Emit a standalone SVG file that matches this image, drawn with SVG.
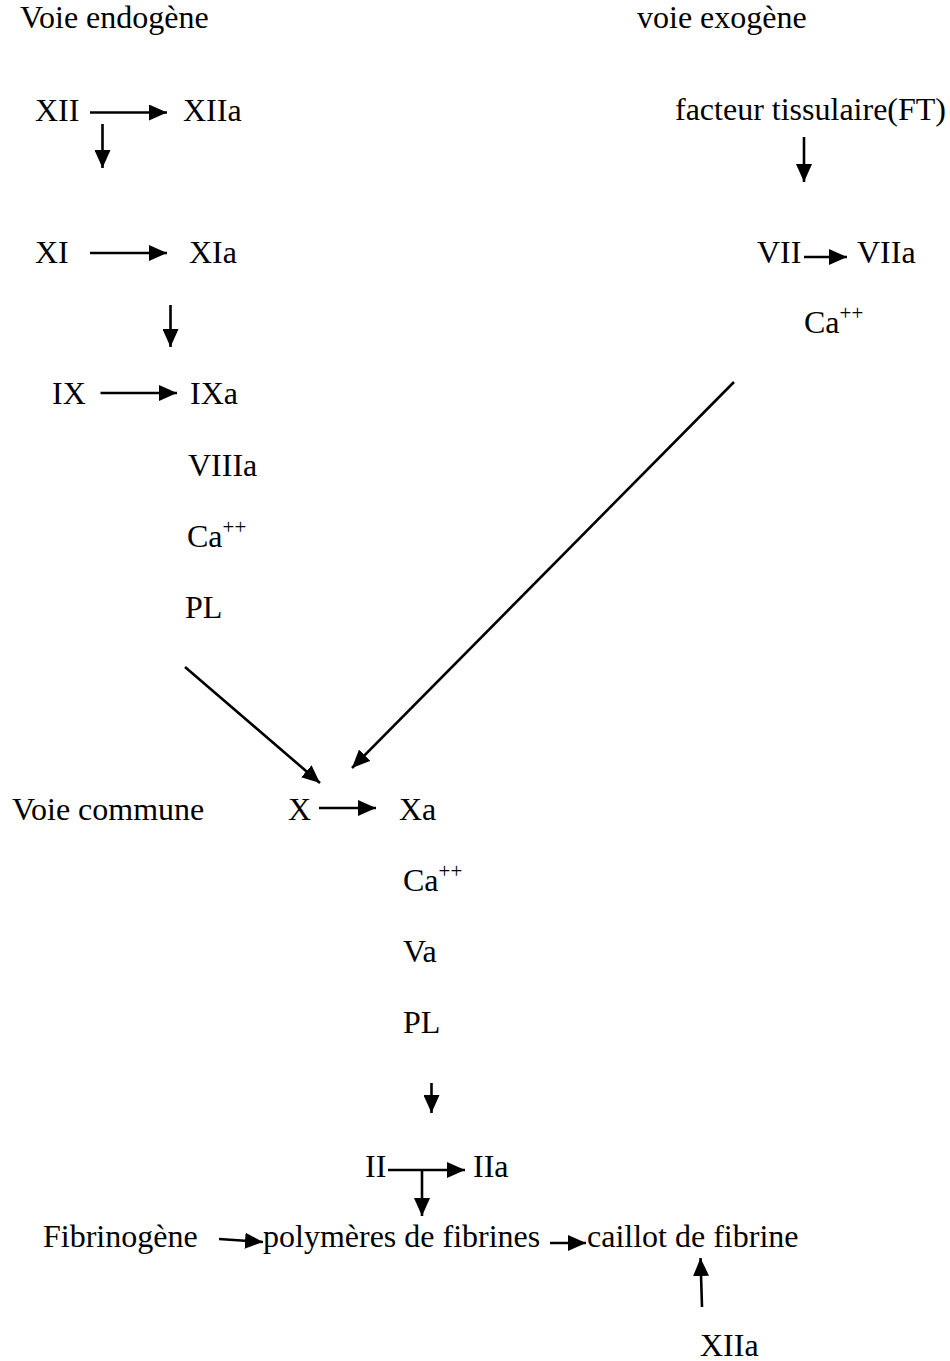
<svg xmlns="http://www.w3.org/2000/svg" width="950" height="1361" viewBox="0 0 950 1361">
  <style>
    text { font-family: "Liberation Serif", "Times New Roman", serif; font-size: 32px; fill: #000; }
    .sup { font-size: 21px; }
    .edge { stroke: #000; stroke-width: 2.6; fill: none; marker-end: url(#head); }
  </style>
  <defs>
    <marker id="head" markerUnits="userSpaceOnUse" markerWidth="18" markerHeight="16" refX="18" refY="8" orient="auto">
      <path d="M0,0 L18,8 L0,16 z" fill="#000"/>
    </marker>
  </defs>
  <rect width="950" height="1361" fill="#fff"/>

  <!-- section titles -->
  <g id="titles">
    <text x="20" y="28">Voie endogène</text>
    <text x="637" y="28">voie exogène</text>
    <text x="12" y="820">Voie commune</text>
  </g>

  <!-- intrinsic pathway -->
  <g id="n-XII"><text x="35" y="121">XII</text></g>
  <g id="n-XIIa"><text x="183" y="121">XIIa</text></g>
  <g id="n-XI"><text x="35" y="263">XI</text></g>
  <g id="n-XIa"><text x="189" y="263">XIa</text></g>
  <g id="n-IX"><text x="52" y="404">IX</text></g>
  <g id="n-IXa"><text x="190" y="404">IXa</text></g>
  <g id="n-VIIIa"><text x="188" y="476">VIIIa</text></g>
  <g id="n-Ca1"><text x="187" y="547">Ca<tspan class="sup" dy="-13">++</tspan></text></g>
  <g id="n-PL1"><text x="185" y="618">PL</text></g>

  <!-- extrinsic pathway -->
  <g id="n-FT"><text x="675" y="120">facteur tissulaire(FT)</text></g>
  <g id="n-VII"><text x="757" y="263">VII</text></g>
  <g id="n-VIIa"><text x="857" y="263">VIIa</text></g>
  <g id="n-Ca2"><text x="804" y="333">Ca<tspan class="sup" dy="-13">++</tspan></text></g>

  <!-- common pathway -->
  <g id="n-X"><text x="288" y="820">X</text></g>
  <g id="n-Xa"><text x="399" y="820">Xa</text></g>
  <g id="n-Ca3"><text x="403" y="891">Ca<tspan class="sup" dy="-13">++</tspan></text></g>
  <g id="n-Va"><text x="403" y="962">Va</text></g>
  <g id="n-PL2"><text x="403" y="1033">PL</text></g>
  <g id="n-II"><text x="365" y="1177">II</text></g>
  <g id="n-IIa"><text x="473" y="1177">IIa</text></g>
  <g id="n-Fib"><text x="43" y="1247">Fibrinogène</text></g>
  <g id="n-Poly"><text x="263" y="1247">polymères de fibrines</text></g>
  <g id="n-Clot"><text x="587" y="1247">caillot de fibrine</text></g>
  <g id="n-XIIa2"><text x="700" y="1356">XIIa</text></g>

  <!-- connectors -->
  <g id="connectors">
    <line class="edge" x1="90" y1="112.5" x2="167" y2="112.5"/>
    <line class="edge" x1="102.5" y1="124" x2="102.5" y2="168"/>
    <line class="edge" x1="90" y1="253" x2="167" y2="253"/>
    <line class="edge" x1="170.5" y1="305" x2="170.5" y2="347"/>
    <line class="edge" x1="100.5" y1="393" x2="177" y2="393"/>
    <line class="edge" x1="804" y1="137" x2="804" y2="182"/>
    <line class="edge" x1="804" y1="257" x2="847" y2="257"/>
    <line class="edge" x1="185" y1="667" x2="320" y2="783"/>
    <line class="edge" x1="734" y1="382" x2="352" y2="768"/>
    <line class="edge" x1="319" y1="808" x2="376" y2="808"/>
    <line class="edge" x1="431.5" y1="1083" x2="431.5" y2="1113"/>
    <line class="edge" x1="388" y1="1170" x2="465" y2="1170"/>
    <line class="edge" x1="422" y1="1170" x2="422" y2="1216"/>
    <line class="edge" x1="219" y1="1239" x2="263" y2="1242"/>
    <line class="edge" x1="550" y1="1243" x2="586" y2="1243"/>
    <line class="edge" x1="702" y1="1307" x2="700.5" y2="1258"/>
  </g>
</svg>
